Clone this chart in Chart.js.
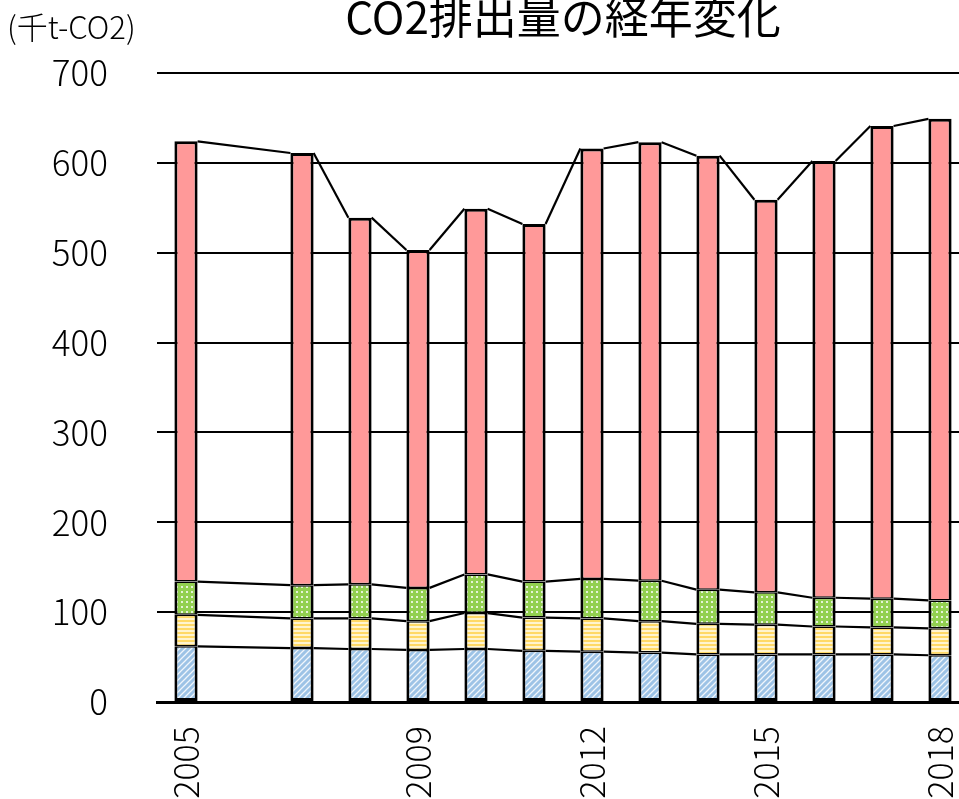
<!DOCTYPE html>
<html lang="ja">
<head>
<meta charset="utf-8">
<title>CO2排出量の経年変化</title>
<script src="https://cdn.jsdelivr.net/npm/chart.js@4/dist/chart.umd.min.js"></script>
<style>
  html, body { margin: 0; padding: 0; background: #fff; overflow: hidden; width: 959px; height: 799px; }
  #wrap { position: absolute; left: 0; top: 0; width: 1124px; height: 799px; }
</style>
</head>
<body>
<div id="wrap"><canvas id="c" width="1124" height="799"></canvas></div>
<script>
// 年度（2006年度はデータなし）
const years = ['2005','2006','2007','2008','2009','2010','2011','2012','2013','2014','2015','2016','2017','2018'];
// 軸に表示する年
const shownYears = ['2005','2009','2012','2015','2018'];
const yTicks = [0, 100, 200, 300, 400, 500, 600, 700];

// 部門別排出量（千t-CO2）
const seriesA = [62, null, 60, 59, 58, 59, 57, 56, 55, 53, 53, 53, 53, 52];
const seriesB = [35, null, 33, 34, 32, 40, 37, 37, 35, 34, 33, 31, 30, 30];
const seriesC = [37, null, 37, 38, 37, 43, 40, 44, 45, 38, 36, 32, 32, 31];
const seriesD = [490, null, 481, 408, 376, 407, 398, 479, 488, 483, 437, 486, 526, 536];

const chartTitle = 'CO2排出量の経年変化';
const unitText = '(千t-CO2)';

const FONT = '"Noto Sans CJK JP", "Noto Sans", sans-serif';

function makePattern(w, h, draw) {
  const c = document.createElement('canvas');
  c.width = w; c.height = h;
  const g = c.getContext('2d');
  draw(g, w, h);
  return g.createPattern(c, 'repeat');
}
const ctxMain = document.getElementById('c').getContext('2d');

const patBlue = makePattern(6, 6, (g, w, h) => {
  g.fillStyle = '#9DC3E6'; g.fillRect(0, 0, w, h);
  g.strokeStyle = 'rgba(255,255,255,0.85)'; g.lineWidth = 1.3;
  g.beginPath();
  g.moveTo(-1, h + 1); g.lineTo(w + 1, -1);
  g.moveTo(-1 - w, h + 1); g.lineTo(1, -1);
  g.moveTo(w - 1, h + 1); g.lineTo(2 * w + 1, -1);
  g.stroke();
});
const patYellow = makePattern(4, 4, (g, w, h) => {
  g.fillStyle = '#FFF4CF'; g.fillRect(0, 0, w, h);
  g.fillStyle = '#FFD966'; g.fillRect(0, 0, w, 2);
});
const patGreen = makePattern(5, 5, (g, w, h) => {
  g.fillStyle = '#92D050'; g.fillRect(0, 0, w, h);
  g.fillStyle = '#E6F4D8'; g.fillRect(1, 1, 2, 2);
});

// 各系列の上端を隣の棒と結ぶ区分線
const seriesLines = {
  id: 'seriesLines',
  afterDatasetsDraw(chart) {
    const ctx = chart.ctx;
    ctx.save();
    ctx.strokeStyle = '#000';
    ctx.lineWidth = 2.2;
    chart.data.datasets.forEach((ds, di) => {
      const meta = chart.getDatasetMeta(di);
      let prev = null;
      meta.data.forEach((bar, i) => {
        if (ds.data[i] == null) return;
        const p = bar.getProps(['x', 'y', 'width'], true);
        if (prev) {
          ctx.beginPath();
          ctx.moveTo(prev.x + prev.width / 2, prev.y);
          ctx.lineTo(p.x - p.width / 2, p.y);
          ctx.stroke();
        }
        prev = p;
      });
    });
    ctx.restore();
  }
};

// タイトル（描画領域の中央）と単位表示
const headerText = {
  id: 'headerText',
  afterDraw(chart) {
    const ctx = chart.ctx;
    const area = chart.chartArea;
    ctx.save();
    ctx.fillStyle = '#000';
    ctx.textBaseline = 'middle';
    ctx.font = '400 44px ' + FONT;
    ctx.textAlign = 'center';
    ctx.fillText(chartTitle, (area.left + area.right) / 2, 17);
    ctx.font = '300 31px ' + FONT;
    ctx.textAlign = 'left';
    ctx.fillText(unitText, 7, 27);
    ctx.restore();
  }
};

// 区切り線が重ならないよう、内側の辺は細めに
const sideW = 3, joinW = 1.5;
const barCommon = {
  borderColor: '#000',
  borderSkipped: false,
  barPercentage: 0.4,
  categoryPercentage: 1.0
};

new Chart(ctxMain, {
  type: 'bar',
  data: {
    labels: years,
    datasets: [
      Object.assign({ label: 'A', data: seriesA, backgroundColor: patBlue,
        borderWidth: { top: joinW, bottom: sideW, left: sideW, right: sideW } }, barCommon),
      Object.assign({ label: 'B', data: seriesB, backgroundColor: patYellow,
        borderWidth: { top: joinW, bottom: joinW, left: sideW, right: sideW } }, barCommon),
      Object.assign({ label: 'C', data: seriesC, backgroundColor: patGreen,
        borderWidth: { top: joinW, bottom: joinW, left: sideW, right: sideW } }, barCommon),
      Object.assign({ label: 'D', data: seriesD, backgroundColor: '#FF9999',
        borderWidth: { top: sideW, bottom: joinW, left: sideW, right: sideW } }, barCommon)
    ]
  },
  options: {
    responsive: false,
    animation: false,
    devicePixelRatio: 1,
    layout: { padding: { left: 0, right: 155, top: 73, bottom: 0 } },
    plugins: {
      legend: { display: false },
      tooltip: { enabled: false },
      title: { display: false }
    },
    scales: {
      x: {
        stacked: true,
        grid: { display: false, drawTicks: false },
        border: { display: true, color: '#000', width: 3 },
        ticks: {
          autoSkip: false,
          maxRotation: 90,
          minRotation: 90,
          padding: 24,
          color: '#000',
          font: { family: FONT, size: 34, weight: '300' },
          callback: function (v) {
            const lab = this.getLabelForValue(v);
            return shownYears.includes(lab) ? lab : '';
          }
        },
        afterFit(scale) { scale.height = 799 - 702; }
      },
      y: {
        stacked: true,
        min: yTicks[0],
        max: yTicks[yTicks.length - 1],
        afterBuildTicks(scale) { scale.ticks = yTicks.map(v => ({ value: v })); },
        grid: { color: '#000', lineWidth: 2, drawTicks: false },
        border: { display: false },
        ticks: {
          padding: 49,
          color: '#000',
          font: { family: FONT, size: 35, weight: '300' }
        },
        afterFit(scale) { scale.width = 157; }
      }
    }
  },
  plugins: [seriesLines, headerText]
});
</script>
</body>
</html>
